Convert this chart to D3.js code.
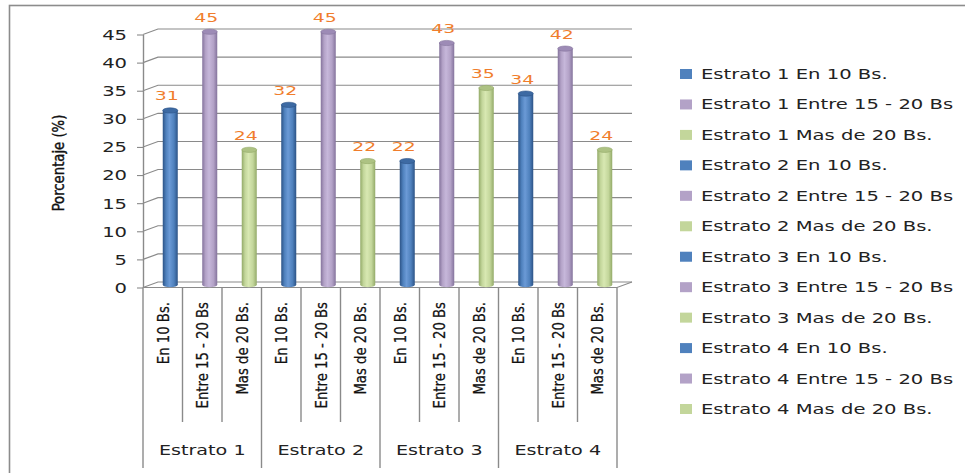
<!DOCTYPE html>
<html>
<head>
<meta charset="utf-8">
<script src="https://cdn.jsdelivr.net/npm/d3@7"></script>
<style>
  body { margin: 0; background: #fff; }
  svg { display: block; }
</style>
</head>
<body>
<svg id="chart" width="965" height="473"></svg>
<script>
// Price ranges per socioeconomic stratum (percent of respondents)
const groups = ["Estrato 1", "Estrato 2", "Estrato 3", "Estrato 4"];
const ranges = ["En 10 Bs.", "Entre 15 - 20 Bs", "Mas de 20 Bs."];
const estrato1 = [31, 45, 24];
const estrato2 = [32, 45, 22];
const estrato3 = [22, 43, 35];
const estrato4 = [34, 42, 24];
const yTicks = [0, 5, 10, 15, 20, 25, 30, 35, 40, 45];
const yTitle = "Porcentaje (%)";

const seriesValues = [estrato1, estrato2, estrato3, estrato4];
const rangeColors = [
  { base: "#4F81BD", edge: "#2c5386", light: "#6b9ad6", top: "#3d6aa3" },
  { base: "#B3A2C7", edge: "#84739c", light: "#c6b7da", top: "#9d8bb6" },
  { base: "#C3D69B", edge: "#93aa68", light: "#d8e8b2", top: "#adc283" }
];

const data = [];
groups.forEach((g, gi) => {
  ranges.forEach((r, ri) => {
    data.push({ group: g, range: r, ri, value: seriesValues[gi][ri], key: g + "|" + r });
  });
});

const svg = d3.select("#chart");
const GRID = "#8a8a8a";
const SANS = "'DejaVu Sans', Verdana, sans-serif";
const NARROW = "'DejaVu Sans Condensed', 'Liberation Sans Narrow', 'Arial Narrow', sans-serif";
const WIDE = 1.45; // horizontal stretch for the wide labels

// outer frame
svg.append("rect")
  .attr("x", 9.5).attr("y", 5.5).attr("width", 980).attr("height", 480)
  .attr("fill", "none").attr("stroke", "#8c8c8c").attr("stroke-width", 1.6);

const x = d3.scaleBand().domain(data.map(d => d.key)).range([143, 617]).padding(0);
const y = d3.scaleLinear().domain([0, 45]).range([287.5, 34.5]);
const depth = { dx: 15, dy: -5.5 };
const backRight = 617 + depth.dx;

// gridlines on the side and back walls
const grid = svg.append("g").attr("fill", "none").attr("stroke", GRID).attr("stroke-width", 1.1);
yTicks.forEach(t => {
  const yf = y(t);
  grid.append("path").attr("d",
    `M143,${yf}L${143 + depth.dx},${yf + depth.dy}L${backRight},${yf + depth.dy}`);
});
// floor front edge and right corner
grid.append("path").attr("d",
  `M143,${y(0)}L617,${y(0)}L${backRight},${y(0) + depth.dy}`);

// value axis
const yAxis = d3.axisLeft(y).tickValues(yTicks).tickSize(6).tickSizeOuter(0);
const ya = svg.append("g").attr("transform", "translate(143,0)").call(yAxis);
ya.select(".domain").attr("stroke", GRID).attr("stroke-width", 1.4);
ya.selectAll(".tick line").attr("stroke", GRID).attr("stroke-width", 1.1);
ya.selectAll(".tick text")
  .attr("x", -16 / WIDE).attr("dy", "0.36em")
  .attr("transform", `scale(${WIDE},1)`)
  .attr("fill", "#222").attr("font-family", SANS).attr("font-size", 13.5);

// axis title
svg.append("text")
  .attr("transform", `translate(64,163) rotate(-90) scale(0.92,1)`)
  .attr("text-anchor", "middle")
  .attr("font-family", NARROW).attr("font-size", 16)
  .attr("stroke", "#111").attr("stroke-width", 0.4)
  .attr("fill", "#111")
  .text(yTitle);

// cylinder shading
const defs = svg.append("defs");
rangeColors.forEach((c, i) => {
  const g = defs.append("linearGradient").attr("id", "cyl" + i)
    .attr("x1", "0%").attr("x2", "100%").attr("y1", "0%").attr("y2", "0%");
  g.append("stop").attr("offset", "0%").attr("stop-color", c.edge);
  g.append("stop").attr("offset", "22%").attr("stop-color", c.base);
  g.append("stop").attr("offset", "45%").attr("stop-color", c.light);
  g.append("stop").attr("offset", "75%").attr("stop-color", c.base);
  g.append("stop").attr("offset", "100%").attr("stop-color", c.edge);
});

const barW = 15, ry = 2.6;
const cx = d => x(d.key) + x.bandwidth() / 2 + depth.dx / 2;
const yMid = v => y(v) + depth.dy / 2;

const bars = svg.append("g").selectAll("g").data(data).join("g");
bars.append("ellipse")
  .attr("cx", cx).attr("cy", yMid(0))
  .attr("rx", barW / 2).attr("ry", ry)
  .attr("fill", d => `url(#cyl${d.ri})`);
bars.append("rect")
  .attr("x", d => cx(d) - barW / 2).attr("width", barW)
  .attr("y", d => yMid(d.value)).attr("height", d => yMid(0) - yMid(d.value))
  .attr("fill", d => `url(#cyl${d.ri})`);
bars.append("ellipse")
  .attr("cx", cx).attr("cy", d => yMid(d.value))
  .attr("rx", barW / 2).attr("ry", ry)
  .attr("fill", d => rangeColors[d.ri].top)
  .attr("stroke", d => rangeColors[d.ri].edge).attr("stroke-width", 0.6);

// value labels
svg.append("g").selectAll("text").data(data).join("text")
  .attr("transform", d => `translate(${cx(d) - 3.5},${yMid(d.value) - 10}) scale(${WIDE},1)`)
  .attr("text-anchor", "middle")
  .attr("font-family", SANS).attr("font-size", 13)
  .attr("fill", "#F07D2C")
  .text(d => d.value);

// category dividers below the floor
const div = svg.append("g").attr("stroke", GRID).attr("stroke-width", 1.4);
d3.range(data.length + 1).forEach(i => {
  const xi = 143 + i * x.bandwidth();
  div.append("line")
    .attr("x1", xi).attr("x2", xi)
    .attr("y1", y(0)).attr("y2", i % 3 === 0 ? 468 : 422);
});

// rotated range labels
svg.append("g").selectAll("text").data(data).join("text")
  .attr("transform", d => `translate(${x(d.key) + x.bandwidth() / 2 + 6},302) rotate(-90) scale(0.92,1)`)
  .attr("text-anchor", "end")
  .attr("font-family", NARROW).attr("font-size", 16)
  .attr("stroke", "#111").attr("stroke-width", 0.25)
  .attr("fill", "#111")
  .text(d => d.range);

// stratum labels
svg.append("g").selectAll("text").data(groups).join("text")
  .attr("transform", (g, i) => {
    const x0 = x(g + "|" + ranges[0]);
    const x1 = x(g + "|" + ranges[2]) + x.bandwidth();
    return `translate(${(x0 + x1) / 2},455) scale(1.42,1)`;
  })
  .attr("text-anchor", "middle")
  .attr("font-family", SANS).attr("font-size", 13.5)
  .attr("fill", "#222")
  .text(g => g);

// legend
const legendItems = [];
groups.forEach(g => ranges.forEach((r, ri) => legendItems.push({ label: g + " " + r, ri })));
const ly = d3.scaleLinear().domain([0, legendItems.length - 1]).range([74, 409]);
const leg = svg.append("g").selectAll("g").data(legendItems).join("g")
  .attr("transform", (d, i) => `translate(680,${ly(i)})`);
leg.append("rect")
  .attr("x", 0).attr("y", -5).attr("width", 12).attr("height", 10)
  .attr("fill", d => rangeColors[d.ri].base);
leg.append("text")
  .attr("transform", `translate(21,5) scale(${WIDE},1)`)
  .attr("font-family", SANS).attr("font-size", 13.5)
  .attr("fill", "#222")
  .text(d => d.label);
</script>
</body>
</html>
